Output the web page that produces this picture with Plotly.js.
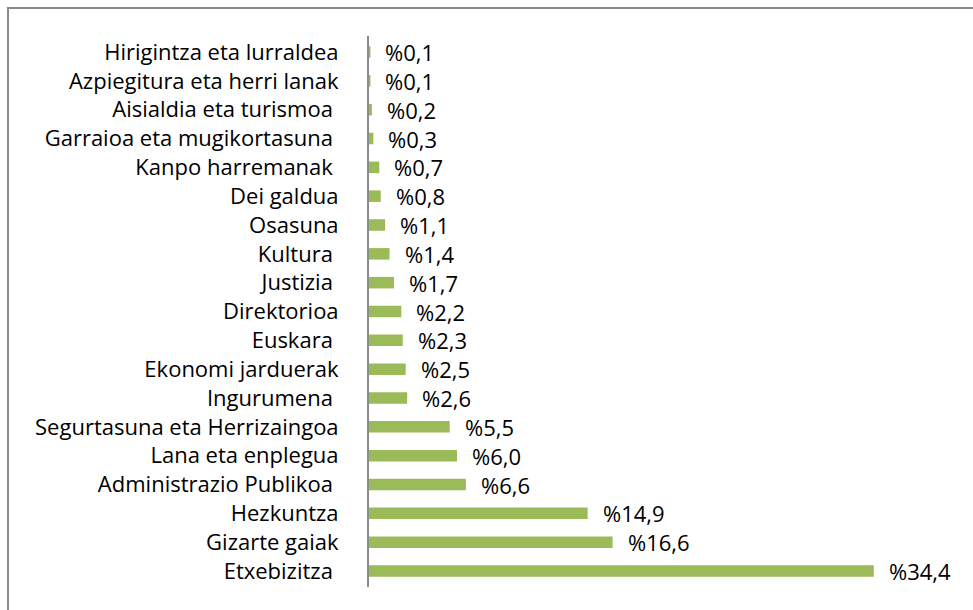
<!DOCTYPE html>
<html>
<head>
<meta charset="utf-8">
<script src="https://cdn.plot.ly/plotly-3.0.1.min.js"></script>
<style>
html,body{margin:0;padding:0;background:#fff;overflow:hidden;}
#frame{position:absolute;left:7px;top:7px;width:1100px;height:800px;border:2px solid #8a8a8a;box-sizing:border-box;}
#chart{position:absolute;left:0;top:0;width:973px;height:610px;}
</style>
</head>
<body>
<div id="frame"></div>
<div id="chart"></div>
<script>
const categories = [
  "Hirigintza eta lurraldea",
  "Azpiegitura eta herri lanak",
  "Aisialdia eta turismoa ",
  "Garraioa eta mugikortasuna ",
  "Kanpo harremanak ",
  "Dei galdua",
  "Osasuna",
  "Kultura ",
  "Justizia ",
  "Direktorioa",
  "Euskara ",
  "Ekonomi jarduerak",
  "Ingurumena ",
  "Segurtasuna eta Herrizaingoa",
  "Lana eta enplegua",
  "Administrazio Publikoa ",
  "Hezkuntza",
  "Gizarte gaiak",
  "Etxebizitza "
];
const values = [0.1, 0.1, 0.2, 0.3, 0.7, 0.8, 1.1, 1.4, 1.7, 2.2, 2.3, 2.5, 2.6, 5.5, 6.0, 6.6, 14.9, 16.6, 34.4];
const valueLabels = ["%0,1","%0,1","%0,2","%0,3","%0,7","%0,8","%1,1","%1,4","%1,7","%2,2","%2,3","%2,5","%2,6","%5,5","%6,0","%6,6","%14,9","%16,6","%34,4"];

const FONT = "'Open Sans', sans-serif";

const trace = {
  type: "bar",
  orientation: "h",
  x: values,
  y: categories,
  marker: {color: "#9bbb59"},
  hoverinfo: "none"
};

const annotations = values.map((v, i) => ({
  x: v, y: categories[i], xref: "x", yref: "y",
  text: valueLabels[i], showarrow: false,
  xanchor: "left", yanchor: "middle", xshift: 14, yshift: 0,
  borderpad: 0,
  font: {family: FONT, size: 22, color: "#000"}
}));

const layout = {
  width: 973, height: 610,
  margin: {l: 369, r: 17, t: 36, b: 23},
  paper_bgcolor: "rgba(0,0,0,0)",
  plot_bgcolor: "rgba(0,0,0,0)",
  showlegend: false,
  bargap: 0.6,
  xaxis: {range: [0, 40], visible: false, fixedrange: true},
  yaxis: {
    autorange: "reversed",
    showline: true, linecolor: "#8a8a8a", linewidth: 2,
    ticks: "", showgrid: false, zeroline: false,
    ticklabelstandoff: 24,
    tickfont: {family: FONT, size: 22, color: "#000"}
  },
  annotations: annotations
};

Plotly.newPlot("chart", [trace], layout, {displayModeBar: false, staticPlot: true});
</script>
</body>
</html>
